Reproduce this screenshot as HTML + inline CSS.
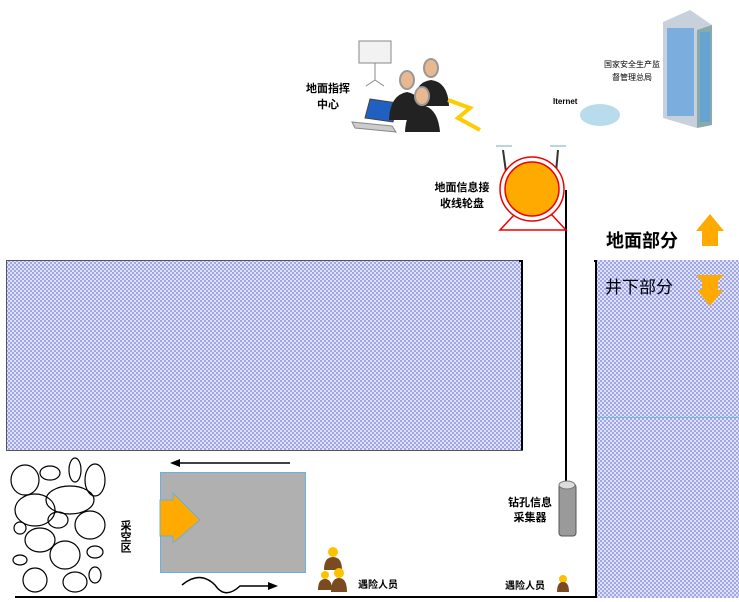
<!DOCTYPE html>
<html><head><meta charset="utf-8"><style>
html,body{margin:0;padding:0;background:#fff;}
svg{display:block;font-family:"Liberation Sans","Noto Sans CJK SC",sans-serif;}
</style></head><body>
<svg width="739" height="602" viewBox="0 0 739 602" xmlns="http://www.w3.org/2000/svg">
<defs>
<pattern id="h" width="4" height="4" patternUnits="userSpaceOnUse">
<rect width="4" height="4" fill="#dfe2fb"/>
<rect x="0" y="0" width="2" height="2" fill="#a0a6e6"/>
<rect x="2" y="2" width="2" height="2" fill="#a0a6e6"/>
</pattern>
</defs>
<!-- mine rects -->
<rect x="6.5" y="260.5" width="516" height="190" fill="url(#h)" stroke="#555" stroke-width="1"/>
<path d="M519 261 H522 V450" fill="none" stroke="#000" stroke-width="2"/>
<rect x="597" y="260" width="142" height="338" fill="url(#h)"/>
<line x1="597" y1="417.5" x2="739" y2="417.5" stroke="#6bbfd8" stroke-width="1"/>
<path d="M594 261 H596 V598" fill="none" stroke="#000" stroke-width="2"/>
<line x1="15" y1="597" x2="597" y2="597" stroke="#000" stroke-width="2"/>
<!-- cable -->
<line x1="566" y1="190" x2="566" y2="482" stroke="#000" stroke-width="2"/>
<!-- reel -->
<line x1="503" y1="150" x2="506" y2="172" stroke="#333" stroke-width="2"/>
<line x1="558" y1="150" x2="556" y2="172" stroke="#333" stroke-width="2"/>
<line x1="496" y1="146" x2="512" y2="146" stroke="#7ab" stroke-width="1"/>
<line x1="550" y1="146" x2="566" y2="146" stroke="#7ab" stroke-width="1"/>
<polygon points="500,230 566,230 552,215 514,215" fill="#fff" stroke="#e00" stroke-width="1.5"/>
<circle cx="532" cy="189" r="32" fill="#fff" stroke="#e00" stroke-width="1.5"/>
<circle cx="532" cy="189" r="27" fill="#ffaa00" stroke="#e00" stroke-width="1.5"/>
<text x="462" y="191" font-size="11" font-weight="bold" text-anchor="middle">地面信息接</text>
<text x="462" y="207" font-size="11" font-weight="bold" text-anchor="middle">收线轮盘</text>
<!-- ground labels -->
<text x="606" y="247" font-size="18" font-weight="bold">地面部分</text>
<polygon points="710,214 724,231 718,231 718,246 702,246 702,231 696,231" fill="#ffaa00"/>
<text x="605" y="293" font-size="17">井下部分</text>
<polygon points="696,275 724,275 718,281 718,290 723,290 710,306 697,290 702,290 702,281" fill="#ffaa00"/>
<!-- command center -->
<rect x="359" y="41" width="32" height="22" fill="#f2f2f2" stroke="#888"/>
<line x1="375" y1="63" x2="375" y2="80" stroke="#888"/>
<line x1="375" y1="80" x2="366" y2="86" stroke="#888"/><line x1="375" y1="80" x2="384" y2="86" stroke="#888"/>
<polygon points="370,99 398,103 393,122 365,118" fill="#2060c0" stroke="#444"/>
<polygon points="352,122 392,126 396,132 355,128" fill="#ccc" stroke="#888"/>
<g fill="#222">
<path d="M389 120 Q390 95 407 92 Q424 95 425 120 Z"/>
<path d="M413 106 Q414 82 431 80 Q448 82 449 106 Z"/>
<path d="M405 132 Q406 108 422 105 Q438 108 440 132 Z"/>
</g>
<g fill="#e8b890" stroke="#999" stroke-width="2">
<ellipse cx="407" cy="80" rx="7" ry="9"/>
<ellipse cx="431" cy="68" rx="7" ry="9"/>
<ellipse cx="422" cy="96" rx="7" ry="9"/>
</g>
<polyline points="448,100 470,108 458,118 480,130" fill="none" stroke="#ffcc00" stroke-width="4"/>
<text x="328" y="92" font-size="11" font-weight="bold" text-anchor="middle">地面指挥</text>
<text x="328" y="108" font-size="11" font-weight="bold" text-anchor="middle">中心</text>
<!-- internet -->
<text x="553" y="104" font-size="8" font-weight="bold">Iternet</text>
<ellipse cx="600" cy="115" rx="20" ry="11" fill="#b8dcec"/>
<!-- building -->
<polygon points="663,22 690,10 712,25 712,125 697,128 663,118" fill="#c8d0dc"/>
<polygon points="697,30 712,25 712,125 697,128" fill="#8aa"/>
<g fill="#5aa0e0">
<rect x="667" y="28" width="27" height="88" opacity="0.7"/>
<rect x="700" y="32" width="10" height="90" opacity="0.7"/>
</g>
<text x="632" y="67" font-size="8" text-anchor="middle">国家安全生产监</text>
<text x="632" y="80" font-size="8" text-anchor="middle">督管理总局</text>
<!-- rocks -->
<g fill="none" stroke="#000" stroke-width="1.2">
<ellipse cx="25" cy="480" rx="14" ry="15"/>
<ellipse cx="50" cy="473" rx="10" ry="7"/>
<ellipse cx="75" cy="470" rx="6" ry="12"/>
<ellipse cx="95" cy="480" rx="10" ry="16"/>
<ellipse cx="35" cy="510" rx="20" ry="16"/>
<ellipse cx="70" cy="500" rx="24" ry="14"/>
<ellipse cx="58" cy="520" rx="10" ry="8"/>
<ellipse cx="90" cy="525" rx="15" ry="14"/>
<ellipse cx="40" cy="540" rx="15" ry="12"/>
<ellipse cx="20" cy="528" rx="6" ry="6"/>
<ellipse cx="65" cy="555" rx="15" ry="14"/>
<ellipse cx="95" cy="552" rx="8" ry="6"/>
<ellipse cx="20" cy="560" rx="7" ry="5"/>
<ellipse cx="35" cy="580" rx="12" ry="12"/>
<ellipse cx="75" cy="582" rx="12" ry="10"/>
<ellipse cx="95" cy="575" rx="6" ry="8"/>
</g>
<text x="125" y="520" font-size="11" font-weight="bold" writing-mode="tb">采空区</text>
<!-- machine -->
<line x1="290" y1="463" x2="175" y2="463" stroke="#000" stroke-width="1.5"/>
<polygon points="170,463 180,459 180,467" fill="#000"/>
<rect x="160.5" y="472.5" width="145" height="100" fill="#b0b0b0" stroke="#6ab0e0"/>
<polygon points="160,500 173,500 173,493 200,520 173,543 173,536 160,536" fill="#ffaa00" stroke="#6ab0e0"/>
<path d="M182 585 Q200 570 215 585 Q225 600 240 586 L272 586" fill="none" stroke="#000" stroke-width="1.5"/>
<polygon points="278,586 268,582 268,590" fill="#000"/>
<!-- people -->
<g>
<circle cx="333" cy="552" r="5" fill="#ffc000"/><path d="M324 570 Q324 557 333 557 Q342 557 342 570 Z" fill="#7a4a20"/>
<circle cx="325" cy="575" r="4" fill="#ffc000"/><path d="M318 590 Q318 579 325 579 Q332 579 332 590 Z" fill="#7a4a20"/>
<circle cx="339" cy="573" r="5" fill="#ffc000"/><path d="M331 592 Q331 578 339 578 Q347 578 347 592 Z" fill="#7a4a20"/>
<circle cx="563" cy="579" r="4" fill="#ffc000"/><path d="M557 592 Q557 582 563 582 Q569 582 569 592 Z" fill="#7a4a20"/>
</g>
<text x="358" y="588" font-size="10" font-weight="bold">遇险人员</text>
<text x="505" y="589" font-size="10" font-weight="bold">遇险人员</text>
<!-- drill -->
<rect x="559" y="484" width="17" height="52" rx="3" fill="#9a9a9a" stroke="#555"/>
<ellipse cx="567" cy="485" rx="8" ry="4" fill="#ddd" stroke="#777"/>
<text x="530" y="506" font-size="11" font-weight="bold" text-anchor="middle">钻孔信息</text>
<text x="530" y="521" font-size="11" font-weight="bold" text-anchor="middle">采集器</text>
</svg>
</body></html>
